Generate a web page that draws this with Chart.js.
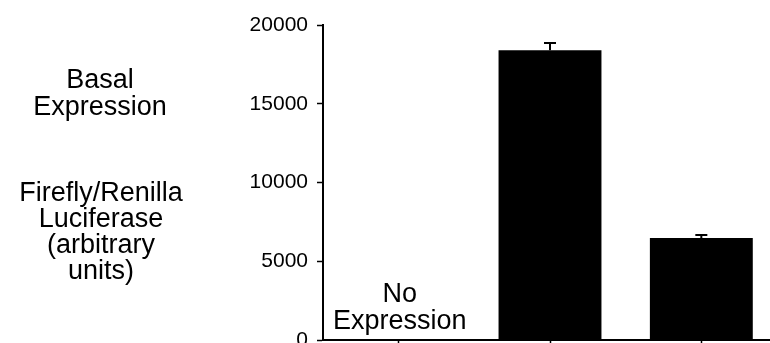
<!DOCTYPE html>
<html>
<head>
<meta charset="utf-8">
<script src="https://cdn.jsdelivr.net/npm/chart.js@4/dist/chart.umd.min.js"></script>
<style>
  html, body { margin: 0; padding: 0; background: #fff; overflow: hidden; }
  #wrap { position: relative; width: 790px; height: 370px; }
</style>
</head>
<body>
<div id="wrap"><canvas id="chart" width="790" height="370"></canvas></div>
<script>
// data
const categories = ["No Expression", "", ""];
const values = [0, 18400, 6480];
const errors = [0, 450, 190];
const yTicks = [0, 5000, 10000, 15000, 20000];

// labels left of the axis
const titleTop = ["Basal", "Expression"];
const titleBottom = ["Firefly/Renilla", "Luciferase", "(arbitrary", "units)"];

const FONT = "Arial, 'Liberation Sans', sans-serif";

const errorBars = {
  id: "errorBars",
  afterDatasetsDraw(chart) {
    const { ctx, scales: { y } } = chart;
    const meta = chart.getDatasetMeta(0);
    ctx.save();
    ctx.strokeStyle = "#000";
    ctx.lineWidth = 2;
    meta.data.forEach((bar, i) => {
      if (!errors[i]) return;
      const top = y.getPixelForValue(values[i] + errors[i]);
      const base = y.getPixelForValue(values[i]);
      ctx.beginPath();
      ctx.moveTo(bar.x, base);
      ctx.lineTo(bar.x, top);
      ctx.moveTo(bar.x - 6, top);
      ctx.lineTo(bar.x + 6, top);
      ctx.stroke();
    });
    ctx.restore();
  }
};

const textLabels = {
  id: "textLabels",
  afterDraw(chart) {
    const { ctx, scales: { x } } = chart;
    ctx.save();
    ctx.fillStyle = "#000";
    ctx.textAlign = "center";
    ctx.textBaseline = "alphabetic";
    ctx.font = "27px " + FONT;
    titleTop.forEach((t, i) => ctx.fillText(t, 100, 88 + i * 27));
    titleBottom.forEach((t, i) => ctx.fillText(t, 101, 201 + i * 26));
    // the empty category is labelled inside the plot
    const cx = x.getPixelForValue(0);
    ctx.fillText("No", cx + 1, 302);
    ctx.fillText("Expression", cx + 1, 329);
    ctx.restore();
  }
};

new Chart(document.getElementById("chart"), {
  type: "bar",
  data: {
    labels: categories,
    datasets: [{
      data: values,
      backgroundColor: "#000",
      borderWidth: 0,
      categoryPercentage: 1,
      barPercentage: 0.68
    }]
  },
  options: {
    responsive: false,
    animation: false,
    events: [],
    layout: { padding: { top: 25, right: 13, left: 0, bottom: 0 } },
    plugins: { legend: { display: false }, tooltip: { enabled: false } },
    scales: {
      x: {
        grid: { drawOnChartArea: false, drawTicks: true, tickLength: 4, tickColor: "#000", tickWidth: 1.5, offset: false },
        border: { display: true, color: "#000", width: 2 },
        ticks: { display: false },
        afterFit: s => { s.height = 30; }
      },
      y: {
        min: 0,
        max: 20000,
        afterBuildTicks: s => { s.ticks = yTicks.map(v => ({ value: v })); },
        grid: { drawOnChartArea: false, drawTicks: true, tickLength: 6, tickColor: "#000", tickWidth: 1.5 },
        border: { display: true, color: "#000", width: 2 },
        ticks: { color: "#000", font: { family: FONT, size: 21 }, padding: 9, callback: v => String(v) },
        afterFit: s => { s.width = 323; }
      }
    }
  },
  plugins: [errorBars, textLabels]
});
</script>
</body>
</html>
